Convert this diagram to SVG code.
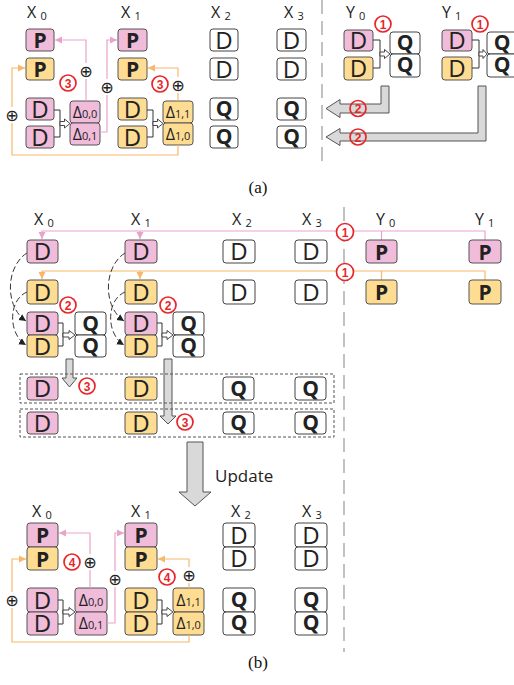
<svg xmlns="http://www.w3.org/2000/svg" width="514" height="685" viewBox="0 0 514 685">
<style>
  .pk{fill:#f0bcd9;stroke:#555;stroke-width:1}
  .yl{fill:#fedd92;stroke:#555;stroke-width:1}
  .wt{fill:#fff;stroke:#444;stroke-width:1}
  .t{font-family:"Open Sans","Noto Sans",sans-serif;text-anchor:middle;fill:#222}
  .d{font-size:24px}
  .b{font-size:21px;font-weight:bold}
  .dl{font-size:16px}
  .lbl{font-family:"Open Sans","Noto Sans",sans-serif;font-size:16px;fill:#222}
  .sub{font-size:11px}
  .pl{fill:none;stroke:#e9a3ca;stroke-width:1.2}
  .ol{fill:none;stroke:#f7b86a;stroke-width:1.2}
  .br{fill:none;stroke:#333;stroke-width:1}
  .ha{fill:#fff;stroke:#333;stroke-width:0.9}
  .ga{fill:#d9d9d9;stroke:#555;stroke-width:1}
  .plus{font-family:"DejaVu Sans",sans-serif;font-size:16px;text-anchor:middle;fill:#222}
  .rc{fill:#fff;stroke:#e8262a;stroke-width:1.7}
  .rn{font-family:"Liberation Sans",Arial,sans-serif;font-size:12px;font-weight:bold;fill:#e8262a;text-anchor:middle}
  .sep{stroke:#999;stroke-width:1.2;stroke-dasharray:14,7}
  .grp{fill:none;stroke:#555;stroke-width:1;stroke-dasharray:3,2}
  .cap{font-family:"Liberation Serif","Times New Roman",serif;font-size:17px;text-anchor:middle;fill:#111}
  .dash{fill:none;stroke:#333;stroke-width:1;stroke-dasharray:6,3}
</style>
<defs>
  <marker id="ap" markerUnits="userSpaceOnUse" markerWidth="8" markerHeight="8" refX="7" refY="4" orient="auto"><path d="M0,0.5 L7,4 L0,7.5 z" fill="#e9a3ca"/></marker>
  <marker id="ao" markerUnits="userSpaceOnUse" markerWidth="8" markerHeight="8" refX="7" refY="4" orient="auto"><path d="M0,0.5 L7,4 L0,7.5 z" fill="#f7b86a"/></marker>
  <marker id="ak" markerUnits="userSpaceOnUse" markerWidth="8" markerHeight="8" refX="7" refY="4" orient="auto"><path d="M0,0.5 L7,4 L0,7.5 z" fill="#222"/></marker>
</defs>

<!-- separators -->
<line class="sep" x1="322" y1="0" x2="322" y2="166"/>
<line class="sep" x1="344" y1="207" x2="344" y2="652"/>

<!-- ===================== (a) ===================== -->
<g id="a-labels">
  <text class="lbl" x="27" y="18">X <tspan class="sub" dy="2">0</tspan></text>
  <text class="lbl" x="121" y="18">X <tspan class="sub" dy="2">1</tspan></text>
  <text class="lbl" x="211" y="18">X <tspan class="sub" dy="2">2</tspan></text>
  <text class="lbl" x="284" y="18">X <tspan class="sub" dy="2">3</tspan></text>
  <text class="lbl" x="346" y="18">Y <tspan class="sub" dy="2">0</tspan></text>
  <text class="lbl" x="442" y="18">Y <tspan class="sub" dy="2">1</tspan></text>
</g>

<g id="a-x0">
  <rect class="pk" x="26" y="29" width="28" height="22" rx="3"/><text class="t b" x="40" y="48">P</text>
  <rect class="yl" x="26" y="58" width="28" height="22" rx="3"/><text class="t b" x="40" y="77">P</text>
  <rect class="pk" x="26" y="98" width="28" height="22" rx="3"/><text class="t d" x="40" y="117.5">D</text>
  <rect class="pk" x="26" y="126" width="28" height="22" rx="3"/><text class="t d" x="40" y="145.5">D</text>
  <path class="br" d="M54,110 H60 V137 H54"/>
  <polygon class="ha" points="60,121.5 64.5,121.5 64.5,119 70,123.5 64.5,128 64.5,125.5 60,125.5"/>
  <rect class="pk" x="70" y="101" width="30" height="22" rx="3"/><text class="t dl" x="85" y="118">Δ<tspan class="sub" font-size="12px">0,0</tspan></text>
  <rect class="pk" x="70" y="123" width="30" height="22" rx="3"/><text class="t dl" x="85" y="140">Δ<tspan class="sub" font-size="12px">0,1</tspan></text>
</g>

<g id="a-x1">
  <rect class="pk" x="118" y="29" width="29" height="22" rx="3"/><text class="t b" x="132.5" y="48">P</text>
  <rect class="yl" x="118" y="58" width="29" height="22" rx="3"/><text class="t b" x="132.5" y="77">P</text>
  <rect class="yl" x="118" y="98" width="29" height="22" rx="3"/><text class="t d" x="132.5" y="117.5">D</text>
  <rect class="yl" x="118" y="126" width="29" height="22" rx="3"/><text class="t d" x="132.5" y="145.5">D</text>
  <path class="br" d="M147,110 H153 V137 H147"/>
  <polygon class="ha" points="153,121.5 157.5,121.5 157.5,119 163,123.5 157.5,128 157.5,125.5 153,125.5"/>
  <rect class="yl" x="163" y="101" width="30" height="22" rx="3"/><text class="t dl" x="178" y="118">Δ<tspan class="sub" font-size="12px">1,1</tspan></text>
  <rect class="yl" x="163" y="123" width="30" height="22" rx="3"/><text class="t dl" x="178" y="140">Δ<tspan class="sub" font-size="12px">1,0</tspan></text>
</g>

<g id="a-x2">
  <rect class="wt" x="210" y="29" width="28" height="22" rx="3"/><text class="t d" x="224" y="48.5">D</text>
  <rect class="wt" x="210" y="58" width="28" height="22" rx="3"/><text class="t d" x="224" y="77.5">D</text>
  <rect class="wt" x="210" y="98" width="28" height="22" rx="3"/><text class="t b" x="224" y="116">Q</text>
  <rect class="wt" x="210" y="126" width="28" height="22" rx="3"/><text class="t b" x="224" y="144">Q</text>
</g>

<g id="a-x3">
  <rect class="wt" x="277" y="29" width="29" height="22" rx="3"/><text class="t d" x="291.5" y="48.5">D</text>
  <rect class="wt" x="277" y="58" width="29" height="22" rx="3"/><text class="t d" x="291.5" y="77.5">D</text>
  <rect class="wt" x="277" y="98" width="29" height="22" rx="3"/><text class="t b" x="291.5" y="116">Q</text>
  <rect class="wt" x="277" y="126" width="29" height="22" rx="3"/><text class="t b" x="291.5" y="144">Q</text>
</g>

<g id="a-y0">
  <rect class="pk" x="344" y="30" width="29" height="21" rx="3"/><text class="t d" x="358.5" y="49">D</text>
  <rect class="yl" x="344" y="57" width="29" height="23" rx="3"/><text class="t d" x="358.5" y="77">D</text>
  <path class="br" d="M373,40 H380 V68 H373"/>
  <polygon class="ha" points="380,52 384.5,52 384.5,49.5 390,54 384.5,58.5 384.5,56 380,56"/>
  <rect class="wt" x="390" y="32" width="30" height="22" rx="3"/><text class="t b" x="405" y="50">Q</text>
  <rect class="wt" x="390" y="54" width="30" height="23" rx="3"/><text class="t b" x="405" y="72">Q</text>
</g>

<g id="a-y1">
  <rect class="pk" x="442" y="30" width="30" height="21" rx="3"/><text class="t d" x="457" y="49">D</text>
  <rect class="yl" x="442" y="57" width="30" height="23" rx="3"/><text class="t d" x="457" y="77">D</text>
  <path class="br" d="M472,40 H479 V68 H472"/>
  <polygon class="ha" points="479,52 483,52 483,49.5 487,54 483,58.5 483,56 479,56"/>
  <rect class="wt" x="487" y="32" width="30" height="22" rx="3"/><text class="t b" x="502" y="50">Q</text>
  <rect class="wt" x="487" y="54" width="30" height="23" rx="3"/><text class="t b" x="502" y="72">Q</text>
</g>

<g id="a-connectors">
  <path class="pl" d="M86,101 V79"/>
  <path class="pl" d="M86,63 V40 H55" marker-end="url(#ap)"/>
  <text class="plus" x="86" y="77">⊕</text>
  <path class="pl" d="M100,132 H107 V95"/>
  <path class="pl" d="M107,79 V40 H117" marker-end="url(#ap)"/>
  <text class="plus" x="107" y="93">⊕</text>
  <path class="ol" d="M178,145 V155 H12 V123"/>
  <path class="ol" d="M12,107 V68 H25" marker-end="url(#ao)"/>
  <text class="plus" x="12" y="121">⊕</text>
  <path class="ol" d="M178,101 V93"/>
  <path class="ol" d="M178,77 V68 H148" marker-end="url(#ao)"/>
  <text class="plus" x="178" y="91">⊕</text>
  <!-- result transfer back to the X side -->
  <path class="ga" d="M381,86 H389 V113 H340 V117.5 L326,108.5 L340,99.5 V104 H381 Z"/>
  <path class="ga" d="M478,86 H486 V141 H340 V145.5 L326,137 L340,128.5 V133 H478 Z"/>
</g>

<g id="a-steps">
  <circle class="rc" cx="68" cy="83" r="8"/><text class="rn" x="68" y="87.5">3</text>
  <circle class="rc" cx="160" cy="84" r="8"/><text class="rn" x="160" y="88.5">3</text>
  <circle class="rc" cx="383" cy="24" r="8"/><text class="rn" x="383" y="28.5">1</text>
  <circle class="rc" cx="480" cy="24" r="8"/><text class="rn" x="480" y="28.5">1</text>
  <circle class="rc" cx="358" cy="108.5" r="8" fill-opacity="0"/><text class="rn" x="358" y="113">2</text>
  <circle class="rc" cx="358" cy="137" r="8" fill-opacity="0"/><text class="rn" x="358" y="141.5">2</text>
</g>

<text class="cap" x="258" y="193">(a)</text>

<!-- ===================== (b) broadcast ===================== -->
<g id="b-labels">
  <text class="lbl" x="34" y="225">X <tspan class="sub" dy="2">0</tspan></text>
  <text class="lbl" x="131" y="225">X <tspan class="sub" dy="2">1</tspan></text>
  <text class="lbl" x="232" y="225">X <tspan class="sub" dy="2">2</tspan></text>
  <text class="lbl" x="302" y="225">X <tspan class="sub" dy="2">3</tspan></text>
  <text class="lbl" x="376" y="225">Y <tspan class="sub" dy="2">0</tspan></text>
  <text class="lbl" x="475" y="225">Y <tspan class="sub" dy="2">1</tspan></text>
</g>

<g id="b-connectors">
  <path class="pl" d="M485,240 V231 H42 V239" marker-end="url(#ap)"/>
  <path class="pl" d="M140,231 V239" marker-end="url(#ap)"/>
  <path class="pl" d="M381.5,231 V240"/>
  <path class="ol" d="M485,280 V271 H42 V279" marker-end="url(#ao)"/>
  <path class="ol" d="M140,271 V279" marker-end="url(#ao)"/>
  <path class="ol" d="M381.5,271 V280"/>
  <path class="dash" d="M27,253 C6,266 4,306 26,321" marker-end="url(#ak)"/>
  <path class="dash" d="M27,292 C8,300 8,334 26,345" marker-end="url(#ak)"/>
  <path class="dash" d="M125,253 C104,266 102,306 124,321" marker-end="url(#ak)"/>
  <path class="dash" d="M125,292 C106,300 106,334 124,345" marker-end="url(#ak)"/>
  <path class="ga" d="M66,359 H73 V378 H77 L69.5,387 L62,378 H66 Z"/>
  <path class="ga" d="M164,359 H172 V416 H176 L168,424 L160,416 H164 Z"/>
  <path class="ga" d="M187,442 H203 V492 H211 L195,506 L179,492 H187 Z"/>
</g>

<g id="b-x0">
  <rect class="pk" x="27" y="240" width="31" height="23" rx="3"/><text class="t d" x="42.5" y="260">D</text>
  <rect class="yl" x="27" y="280" width="31" height="24" rx="3"/><text class="t d" x="42.5" y="300.5">D</text>
  <rect class="pk" x="27" y="312" width="31" height="23" rx="3"/><text class="t d" x="42.5" y="332">D</text>
  <rect class="yl" x="27" y="335" width="31" height="22" rx="3"/><text class="t d" x="42.5" y="354.5">D</text>
  <path class="br" d="M58,323 H63 V346 H58"/>
  <polygon class="ha" points="63,333 69,333 69,330.5 75,335 69,339.5 69,337 63,337"/>
  <rect class="wt" x="75" y="312" width="31" height="23" rx="3"/><text class="t b" x="90.5" y="330.5">Q</text>
  <rect class="wt" x="75" y="335" width="31" height="22" rx="3"/><text class="t b" x="90.5" y="353">Q</text>
</g>

<g id="b-x1">
  <rect class="pk" x="125" y="240" width="32" height="23" rx="3"/><text class="t d" x="141" y="260">D</text>
  <rect class="yl" x="125" y="280" width="32" height="24" rx="3"/><text class="t d" x="141" y="300.5">D</text>
  <rect class="pk" x="125" y="312" width="32" height="23" rx="3"/><text class="t d" x="141" y="332">D</text>
  <rect class="yl" x="125" y="335" width="32" height="22" rx="3"/><text class="t d" x="141" y="354.5">D</text>
  <path class="br" d="M157,323 H162 V346 H157"/>
  <polygon class="ha" points="162,333 167,333 167,330.5 173,335 167,339.5 167,337 162,337"/>
  <rect class="wt" x="173" y="312" width="31" height="23" rx="3"/><text class="t b" x="188.5" y="330.5">Q</text>
  <rect class="wt" x="173" y="335" width="31" height="22" rx="3"/><text class="t b" x="188.5" y="353">Q</text>
</g>

<g id="b-x2">
  <rect class="wt" x="223" y="240" width="32" height="23" rx="3"/><text class="t d" x="239" y="260">D</text>
  <rect class="wt" x="223" y="280" width="32" height="24" rx="3"/><text class="t d" x="239" y="300.5">D</text>
</g>

<g id="b-x3">
  <rect class="wt" x="295" y="240" width="32" height="23" rx="3"/><text class="t d" x="311" y="260">D</text>
  <rect class="wt" x="295" y="280" width="32" height="24" rx="3"/><text class="t d" x="311" y="300.5">D</text>
</g>

<g id="b-y0">
  <rect class="pk" x="366" y="240" width="31" height="23" rx="3"/><text class="t b" x="381.5" y="259.5">P</text>
  <rect class="yl" x="366" y="280" width="31" height="24" rx="3"/><text class="t b" x="381.5" y="300">P</text>
</g>

<g id="b-y1">
  <rect class="pk" x="469" y="240" width="32" height="23" rx="3"/><text class="t b" x="485" y="259.5">P</text>
  <rect class="yl" x="469" y="280" width="32" height="24" rx="3"/><text class="t b" x="485" y="300">P</text>
</g>

<g id="b-steps">
  <circle class="rc" cx="345" cy="232" r="8.5"/><text class="rn" x="345" y="236.5">1</text>
  <circle class="rc" cx="345" cy="272" r="8.5"/><text class="rn" x="345" y="276.5">1</text>
  <circle class="rc" cx="68" cy="305" r="8"/><text class="rn" x="68" y="309.5">2</text>
  <circle class="rc" cx="168" cy="305" r="8"/><text class="rn" x="168" y="309.5">2</text>
  <circle class="rc" cx="87" cy="386" r="8"/><text class="rn" x="87" y="390.5">3</text>
  <circle class="rc" cx="185" cy="422" r="8"/><text class="rn" x="185" y="426.5">3</text>
</g>

<g id="b-row1">
  <rect class="grp" x="20" y="374" width="314" height="29"/>
  <rect class="pk" x="27" y="377" width="31" height="23" rx="3"/><text class="t d" x="42.5" y="397">D</text>
  <rect class="yl" x="125" y="377" width="32" height="23" rx="3"/><text class="t d" x="141" y="397">D</text>
  <rect class="wt" x="223" y="377" width="31" height="23" rx="3"/><text class="t b" x="238.5" y="395.5">Q</text>
  <rect class="wt" x="295" y="377" width="31" height="23" rx="3"/><text class="t b" x="310.5" y="395.5">Q</text>
</g>

<g id="b-row2">
  <rect class="grp" x="20" y="409" width="314" height="28"/>
  <rect class="pk" x="27" y="412" width="31" height="22" rx="3"/><text class="t d" x="42.5" y="431.5">D</text>
  <rect class="yl" x="125" y="412" width="32" height="22" rx="3"/><text class="t d" x="141" y="431.5">D</text>
  <rect class="wt" x="223" y="412" width="31" height="22" rx="3"/><text class="t b" x="238.5" y="430">Q</text>
  <rect class="wt" x="295" y="412" width="31" height="22" rx="3"/><text class="t b" x="310.5" y="430">Q</text>
</g>

<text x="215" y="482" font-family="Open Sans, Noto Sans, sans-serif" font-size="17px" fill="#222">Update</text>

<!-- ===================== (b) update ===================== -->
<g id="c-labels">
  <text class="lbl" x="32" y="517">X <tspan class="sub" dy="2">0</tspan></text>
  <text class="lbl" x="131" y="517">X <tspan class="sub" dy="2">1</tspan></text>
  <text class="lbl" x="231" y="517">X <tspan class="sub" dy="2">2</tspan></text>
  <text class="lbl" x="302" y="517">X <tspan class="sub" dy="2">3</tspan></text>
</g>

<g id="c-x0">
  <rect class="pk" x="27" y="523" width="31" height="24" rx="3"/><text class="t b" x="42.5" y="543">P</text>
  <rect class="yl" x="27" y="547" width="31" height="23" rx="3"/><text class="t b" x="42.5" y="566.5">P</text>
  <rect class="pk" x="27" y="588" width="31" height="24" rx="3"/><text class="t d" x="42.5" y="608.5">D</text>
  <rect class="pk" x="27" y="612" width="31" height="23" rx="3"/><text class="t d" x="42.5" y="632">D</text>
  <path class="br" d="M58,600 H63 V624 H58"/>
  <polygon class="ha" points="63,610 69,610 69,607.5 75,612 69,616.5 69,614 63,614"/>
  <rect class="pk" x="75" y="588" width="32" height="24" rx="3"/><text class="t dl" x="91" y="606">Δ<tspan class="sub" font-size="12px">0,0</tspan></text>
  <rect class="pk" x="75" y="612" width="32" height="23" rx="3"/><text class="t dl" x="91" y="629">Δ<tspan class="sub" font-size="12px">0,1</tspan></text>
</g>

<g id="c-x1">
  <rect class="pk" x="125" y="523" width="32" height="24" rx="3"/><text class="t b" x="141" y="543">P</text>
  <rect class="yl" x="125" y="547" width="32" height="23" rx="3"/><text class="t b" x="141" y="566.5">P</text>
  <rect class="yl" x="125" y="588" width="32" height="24" rx="3"/><text class="t d" x="141" y="608.5">D</text>
  <rect class="yl" x="125" y="612" width="32" height="23" rx="3"/><text class="t d" x="141" y="632">D</text>
  <path class="br" d="M157,600 H162 V624 H157"/>
  <polygon class="ha" points="162,610 167,610 167,607.5 173,612 167,616.5 167,614 162,614"/>
  <rect class="yl" x="173" y="588" width="31" height="24" rx="3"/><text class="t dl" x="188.5" y="606">Δ<tspan class="sub" font-size="12px">1,1</tspan></text>
  <rect class="yl" x="173" y="612" width="31" height="23" rx="3"/><text class="t dl" x="188.5" y="629">Δ<tspan class="sub" font-size="12px">1,0</tspan></text>
</g>

<g id="c-x2">
  <rect class="wt" x="223" y="523" width="32" height="24" rx="3"/><text class="t d" x="239" y="543.5">D</text>
  <rect class="wt" x="223" y="547" width="32" height="23" rx="3"/><text class="t d" x="239" y="567">D</text>
  <rect class="wt" x="223" y="588" width="32" height="24" rx="3"/><text class="t b" x="239" y="607">Q</text>
  <rect class="wt" x="223" y="612" width="32" height="23" rx="3"/><text class="t b" x="239" y="630">Q</text>
</g>

<g id="c-x3">
  <rect class="wt" x="295" y="523" width="32" height="24" rx="3"/><text class="t d" x="311" y="543.5">D</text>
  <rect class="wt" x="295" y="547" width="32" height="23" rx="3"/><text class="t d" x="311" y="567">D</text>
  <rect class="wt" x="295" y="588" width="32" height="24" rx="3"/><text class="t b" x="311" y="607">Q</text>
  <rect class="wt" x="295" y="612" width="32" height="23" rx="3"/><text class="t b" x="311" y="630">Q</text>
</g>

<g id="c-connectors">
  <path class="pl" d="M90,588 V570"/>
  <path class="pl" d="M90,554 V533 H59" marker-end="url(#ap)"/>
  <text class="plus" x="90" y="568">⊕</text>
  <path class="pl" d="M107,623 H115 V587"/>
  <path class="pl" d="M115,571 V533 H124" marker-end="url(#ap)"/>
  <text class="plus" x="115" y="585">⊕</text>
  <path class="ol" d="M189,635 V642 H12 V608"/>
  <path class="ol" d="M12,592 V559 H26" marker-end="url(#ao)"/>
  <text class="plus" x="12" y="606">⊕</text>
  <path class="ol" d="M189,588 V583"/>
  <path class="ol" d="M189,567 V559 H158" marker-end="url(#ao)"/>
  <text class="plus" x="189" y="581">⊕</text>
</g>

<g id="c-steps">
  <circle class="rc" cx="72" cy="562" r="8"/><text class="rn" x="72" y="566.5">4</text>
  <circle class="rc" cx="167" cy="577" r="8"/><text class="rn" x="167" y="581.5">4</text>
</g>

<text class="cap" x="258" y="668">(b)</text>
</svg>
